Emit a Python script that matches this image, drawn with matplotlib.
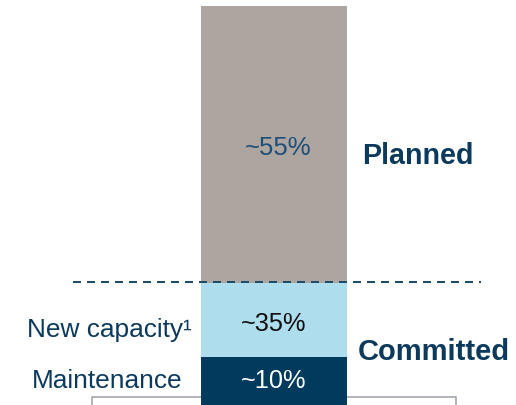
import matplotlib
matplotlib.use("Agg")
import matplotlib.pyplot as plt

plt.rcParams['font.family'] = ['Liberation Sans', 'DejaVu Sans']

# Data (segment heights as drawn, bottom to top)
segments = ["Maintenance", "New capacity", "Planned"]
heights = [48, 74, 277]
labels = ["~10%", "~35%", "~55%"]
colors = ["#003A5D", "#AEDDED", "#ADA59F"]
label_colors = ["#FFFFFF", "#111111", "#1F4E79"]

fig = plt.figure(figsize=(5.16, 4.06), dpi=100)
ax = fig.add_axes([0, 0, 1, 1])
ax.set_xlim(0, 516)
ax.set_ylim(0, 406)
ax.axis("off")

# bottom box outline (behind the bar)
ax.plot([92, 92, 456, 456], [0, 8, 8, 0], color="#A3A7AE", lw=1.2, zorder=1)

bottom = 0
for h, c in zip(heights, colors):
    ax.bar(274, h, width=146, bottom=bottom, color=c, zorder=2)
    bottom += h

# value labels
ax.text(278, 406 - 155, labels[2], ha="center", va="baseline", fontsize=18.5, color=label_colors[2], zorder=3)
ax.text(274, 406 - 331, labels[1], ha="center", va="baseline", fontsize=18.3, color=label_colors[1], zorder=3)
ax.text(274, 406 - 388, labels[0], ha="center", va="baseline", fontsize=18.3, color=label_colors[0], zorder=3)

# dashed separator
ax.plot([73, 481], [123, 123], color="#1F4E6B", lw=1.44, dashes=(4, 3), zorder=4)

# category labels
ax.text(192, 406 - 337, "New capacity\u00b9", ha="right", va="baseline", fontsize=18.9, color="#0B3A5C")
ax.text(183, 406 - 388, "Maintenance", ha="right", va="baseline", fontsize=18.9, color="#0B3A5C")

ax.text(362, 406 - 164, "Planned", ha="left", va="baseline", fontsize=20.6, fontweight="bold", color="#0B3A5C")
ax.text(358, 406 - 360, "Committed", ha="left", va="baseline", fontsize=21.0, fontweight="bold", color="#0B3A5C")

fig.savefig("out.png", dpi=100)
